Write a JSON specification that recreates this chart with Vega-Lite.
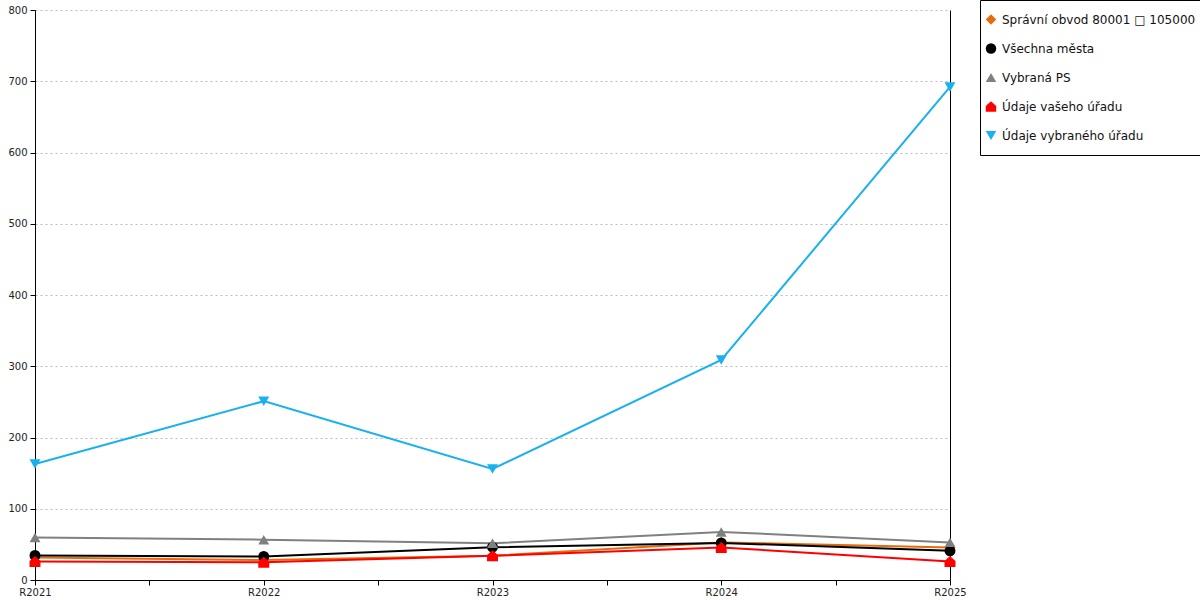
{
  "$schema": "https://vega.github.io/schema/vega-lite/v6.json",
  "width": 915,
  "height": 570,
  "autosize": {"type": "none"},
  "padding": {"left": 35, "top": 10, "right": 250, "bottom": 20},
  "background": "white",
  "config": {
    "view": {"stroke": null},
    "font": "DejaVu Sans",
    "axis": {"labelFont": "DejaVu Sans", "labelFontSize": 10, "labelColor": "#222222", "domainColor": "black", "tickColor": "black", "titleFontSize": 10},
    "legend": {"orient": "none", "legendX": 945, "legendY": -10, "strokeColor": "black", "fillColor": "white", "padding": 5, "labelFont": "DejaVu Sans", "labelFontSize": 12, "labelColor": "#111111", "labelLimit": 400, "labelOffset": 5, "symbolSize": 110, "rowPadding": 0, "clipHeight": 29, "symbolOpacity": 1, "symbolStrokeWidth": 0}
  },
  "data": {
    "values": [
      {"rok": 2021, "rada": "Správní obvod 80001 □ 105000", "hodnota": 31.5},
      {"rok": 2022, "rada": "Správní obvod 80001 □ 105000", "hodnota": 28},
      {"rok": 2023, "rada": "Správní obvod 80001 □ 105000", "hodnota": 34},
      {"rok": 2024, "rada": "Správní obvod 80001 □ 105000", "hodnota": 52.8},
      {"rok": 2025, "rada": "Správní obvod 80001 □ 105000", "hodnota": 45.7},
      {"rok": 2021, "rada": "Všechna města", "hodnota": 34.4},
      {"rok": 2022, "rada": "Všechna města", "hodnota": 33},
      {"rok": 2023, "rada": "Všechna města", "hodnota": 46},
      {"rok": 2024, "rada": "Všechna města", "hodnota": 52},
      {"rok": 2025, "rada": "Všechna města", "hodnota": 41},
      {"rok": 2021, "rada": "Vybraná PS", "hodnota": 59.8},
      {"rok": 2022, "rada": "Vybraná PS", "hodnota": 56.6},
      {"rok": 2023, "rada": "Vybraná PS", "hodnota": 51.5},
      {"rok": 2024, "rada": "Vybraná PS", "hodnota": 67.5},
      {"rok": 2025, "rada": "Vybraná PS", "hodnota": 52.8},
      {"rok": 2021, "rada": "Údaje vašeho úřadu", "hodnota": 25.9},
      {"rok": 2022, "rada": "Údaje vašeho úřadu", "hodnota": 25},
      {"rok": 2023, "rada": "Údaje vašeho úřadu", "hodnota": 34},
      {"rok": 2024, "rada": "Údaje vašeho úřadu", "hodnota": 45.7},
      {"rok": 2025, "rada": "Údaje vašeho úřadu", "hodnota": 25.9},
      {"rok": 2021, "rada": "Údaje vybraného úřadu", "hodnota": 162.8},
      {"rok": 2022, "rada": "Údaje vybraného úřadu", "hodnota": 251},
      {"rok": 2023, "rada": "Údaje vybraného úřadu", "hodnota": 155.8},
      {"rok": 2024, "rada": "Údaje vybraného úřadu", "hodnota": 308.8},
      {"rok": 2025, "rada": "Údaje vybraného úřadu", "hodnota": 692}
    ]
  },
  "layer": [
    {
      "mark": {"type": "line", "strokeWidth": 2},
      "encoding": {
        "x": {
          "field": "rok", "type": "quantitative",
          "scale": {"domain": [2021, 2025], "nice": false, "zero": false},
          "axis": {"title": null, "grid": false, "values": [2021, 2021.5, 2022, 2022.5, 2023, 2023.5, 2024, 2024.5, 2025], "labelExpr": "datum.value % 1 == 0 ? 'R' + datum.value : ''", "tickSize": 5, "labelPadding": 2, "labelFlush": false, "labelOverlap": false}
        },
        "y": {
          "field": "hodnota", "type": "quantitative",
          "scale": {"domain": [0, 800], "nice": false},
          "axis": {"title": null, "values": [0, 100, 200, 300, 400, 500, 600, 700, 800], "tickSize": 5, "labelPadding": 3, "grid": true, "gridColor": "#bbbbbb", "gridDash": [2, 3], "gridWidth": 1}
        },
        "color": {
          "field": "rada", "type": "nominal",
          "scale": {"domain": ["Správní obvod 80001 □ 105000", "Všechna města", "Vybraná PS", "Údaje vašeho úřadu", "Údaje vybraného úřadu"], "range": ["#e46c0a", "#000000", "#808080", "#ff0000", "#1ab0f0"]},
          "legend": {"title": null}
        }
      }
    },
    {
      "mark": {"type": "point", "filled": true, "size": 120, "opacity": 1},
      "encoding": {
        "x": {"field": "rok", "type": "quantitative"},
        "y": {
          "field": "hodnota", "type": "quantitative",
          "axis": {"orient": "right", "title": null, "labels": false, "ticks": false, "grid": false, "domainColor": "black"}
        },
        "color": {
          "field": "rada", "type": "nominal",
          "legend": {"title": null}
        },
        "shape": {
          "field": "rada", "type": "nominal",
          "scale": {"domain": ["Správní obvod 80001 □ 105000", "Všechna města", "Vybraná PS", "Údaje vašeho úřadu", "Údaje vybraného úřadu"], "range": ["diamond", "circle", "triangle-up", "M-1,-0.1L0,-1L1,-0.1L1,1L-1,1Z", "triangle-down"]},
          "legend": {"title": null}
        }
      }
    }
  ],
  "resolve": {"axis": {"y": "independent"}}
}
